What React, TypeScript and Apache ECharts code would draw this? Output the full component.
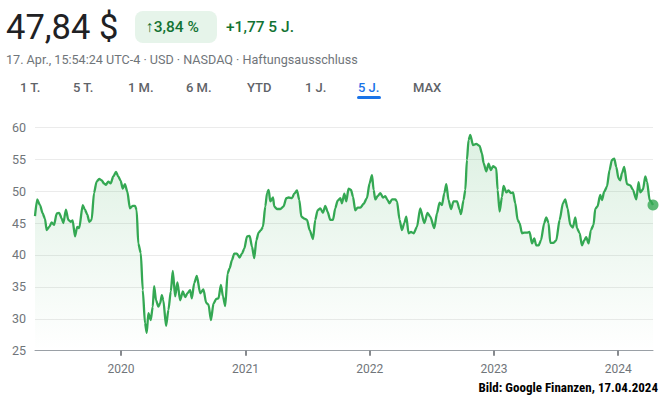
import React, { useEffect, useRef } from "react";
import * as echarts from "echarts";

// Decimal-year dates of the read-off samples
const dates: number[] = [
  2019.308, 2019.326, 2019.348, 2019.370, 2019.388, 2019.402, 2019.423, 2019.442, 2019.461, 2019.483,
  2019.503, 2019.523, 2019.536, 2019.557, 2019.576, 2019.595, 2019.611, 2019.630, 2019.648, 2019.664,
  2019.692, 2019.710, 2019.729, 2019.745, 2019.764, 2019.783, 2019.804, 2019.825, 2019.845, 2019.863,
  2019.879, 2019.898, 2019.917, 2019.938, 2019.960, 2019.978, 2019.998, 2020.014, 2020.032, 2020.051,
  2020.072, 2020.094, 2020.113, 2020.126, 2020.139, 2020.159, 2020.175, 2020.193, 2020.207, 2020.220,
  2020.239, 2020.255, 2020.266, 2020.282, 2020.300, 2020.314, 2020.328, 2020.340, 2020.362, 2020.381,
  2020.400, 2020.416, 2020.435, 2020.453, 2020.475, 2020.497, 2020.515, 2020.534, 2020.555, 2020.569,
  2020.588, 2020.609, 2020.636, 2020.662, 2020.684, 2020.703, 2020.722, 2020.743, 2020.765, 2020.783,
  2020.802, 2020.819, 2020.837, 2020.856, 2020.872, 2020.891, 2020.909, 2020.931, 2020.952, 2020.971,
  2020.990, 2021.012, 2021.033, 2021.052, 2021.070, 2021.087, 2021.105, 2021.124, 2021.140, 2021.159,
  2021.173, 2021.186, 2021.199, 2021.221, 2021.231, 2021.253, 2021.280, 2021.306, 2021.328, 2021.347,
  2021.374, 2021.392, 2021.414, 2021.433, 2021.449, 2021.473, 2021.495, 2021.516, 2021.543, 2021.561,
  2021.580, 2021.602, 2021.623, 2021.642, 2021.660, 2021.682, 2021.704, 2021.722, 2021.741, 2021.763,
  2021.776, 2021.795, 2021.811, 2021.829, 2021.849, 2021.865, 2021.883, 2021.902, 2021.924, 2021.950,
  2021.977, 2021.998, 2022.018, 2022.031, 2022.044, 2022.063, 2022.085, 2022.106, 2022.125, 2022.143,
  2022.159, 2022.179, 2022.205, 2022.219, 2022.240, 2022.259, 2022.278, 2022.294, 2022.312, 2022.332,
  2022.353, 2022.380, 2022.406, 2022.439, 2022.465, 2022.487, 2022.519, 2022.541, 2022.562, 2022.581,
  2022.600, 2022.616, 2022.634, 2022.654, 2022.674, 2022.702, 2022.723, 2022.734, 2022.755, 2022.769,
  2022.782, 2022.795, 2022.809, 2022.831, 2022.857, 2022.884, 2022.903, 2022.916, 2022.938, 2022.956,
  2022.975, 2022.992, 2023.018, 2023.029, 2023.045, 2023.064, 2023.077, 2023.099, 2023.117, 2023.136,
  2023.153, 2023.171, 2023.190, 2023.206, 2023.225, 2023.244, 2023.265, 2023.286, 2023.306, 2023.324,
  2023.340, 2023.359, 2023.378, 2023.404, 2023.421, 2023.439, 2023.453, 2023.479, 2023.501, 2023.528,
  2023.555, 2023.573, 2023.592, 2023.614, 2023.635, 2023.654, 2023.668, 2023.689, 2023.708, 2023.726,
  2023.742, 2023.761, 2023.780, 2023.801, 2023.815, 2023.833, 2023.855, 2023.869, 2023.887, 2023.909,
  2023.930, 2023.949, 2023.968, 2023.984, 2024.002, 2024.016, 2024.030, 2024.048, 2024.070, 2024.097,
  2024.118, 2024.145, 2024.163, 2024.177, 2024.199, 2024.217, 2024.231, 2024.252, 2024.279,
];

// Share price (USD)
const prices: number[] = [
  46.1, 48.7, 47.8, 46.5, 45.7, 43.9, 44.4, 45.1, 44.7, 46.5,
  46.6, 45.7, 45.0, 47.1, 45.5, 45.2, 45.4, 42.9, 44.4, 44.2,
  47.8, 47.1, 46.3, 45.2, 45.5, 49.7, 51.5, 51.9, 51.7, 51.2,
  51.0, 51.5, 51.2, 52.3, 53.0, 52.3, 51.6, 50.4, 51.1, 49.9,
  47.3, 47.7, 47.7, 47.0, 41.8, 40.3, 34.5, 29.3, 27.8, 30.9,
  29.8, 31.9, 35.1, 32.9, 31.9, 32.4, 33.7, 32.9, 28.9, 31.4,
  34.3, 37.5, 33.5, 35.7, 32.9, 34.3, 33.4, 34.0, 34.5, 33.2,
  35.6, 36.7, 34.0, 34.6, 32.5, 32.2, 29.8, 32.4, 33.1, 33.2,
  35.3, 33.5, 32.0, 37.1, 37.9, 39.2, 40.2, 40.2, 39.6, 40.2,
  41.0, 42.9, 43.0, 41.3, 39.5, 42.3, 43.5, 43.9, 44.4, 47.6,
  49.7, 50.2, 48.4, 49.0, 47.6, 47.2, 47.2, 47.6, 48.9, 49.0,
  48.9, 49.6, 50.1, 48.6, 46.0, 45.7, 45.5, 43.9, 42.5, 45.5,
  47.0, 47.3, 46.6, 47.7, 46.8, 45.5, 45.5, 47.3, 48.5, 48.9,
  48.1, 49.6, 48.4, 50.4, 50.2, 49.1, 47.0, 47.4, 47.4, 48.0,
  48.9, 51.2, 52.5, 50.2, 48.7, 49.2, 49.7, 49.0, 49.2, 48.6,
  48.1, 48.7, 48.7, 48.4, 45.5, 43.9, 45.0, 46.0, 43.4, 43.6,
  43.4, 44.4, 47.3, 45.0, 46.6, 46.0, 44.2, 46.5, 48.2, 47.8,
  49.7, 51.1, 48.6, 47.2, 48.4, 48.4, 47.1, 46.4, 48.6, 50.2,
  54.9, 58.0, 58.8, 57.2, 57.4, 57.1, 55.9, 54.4, 53.1, 54.3,
  53.3, 53.9, 53.6, 50.2, 46.8, 49.1, 50.8, 49.8, 50.1, 49.7,
  49.8, 48.1, 45.5, 45.0, 43.4, 43.5, 43.5, 43.6, 41.8, 42.6,
  41.5, 41.5, 42.3, 45.0, 45.9, 45.0, 41.9, 41.9, 42.3, 45.5,
  48.1, 48.7, 47.3, 44.7, 44.3, 45.9, 44.2, 43.4, 41.5, 42.3,
  42.8, 41.8, 43.9, 44.7, 47.2, 47.6, 49.4, 48.6, 49.9, 50.7,
  53.3, 54.9, 55.1, 53.8, 52.0, 51.7, 52.8, 53.8, 51.1, 50.9,
  50.2, 48.7, 51.4, 49.8, 50.3, 52.3, 51.5, 48.6, 47.84,
];

const yTicks: number[] = [25, 30, 35, 40, 45, 50, 55, 60];
const rangeTabs: string[] = ["1 T.", "5 T.", "1 M.", "6 M.", "YTD", "1 J.", "5 J.", "MAX"];
const selectedTab = "5 J.";
const headline = "47,84 $";
const changePct = "↑3,84 %";
const changeAbs = "+1,77 5 J.";
const subtitle = "17. Apr., 15:54:24 UTC-4 · USD · NASDAQ · Haftungsausschluss";
const credit = "Bild: Google Finanzen, 17.04.2024";

function yearToTime(t: number): number {
  const y = Math.floor(t);
  const s = new Date(y, 0, 1).getTime();
  const e = new Date(y + 1, 0, 1).getTime();
  return s + (t - y) * (e - s);
}

const tabX: number[] = [20, 73, 128, 186, 247, 305, 358, 413];

export default function App() {
  const ref = useRef<HTMLDivElement>(null);
  useEffect(() => {
    if (!ref.current) return;
    const chart = echarts.init(ref.current, undefined, { renderer: "svg" });
    const font = "Roboto, 'Noto Sans', Arial, sans-serif";
    const green = "#34a853";
    const seriesData = dates.map((d, i) => [yearToTime(d), prices[i]]);
    const last = seriesData[seriesData.length - 1];

    const graphics: any[] = [
      { type: "text", x: 6, y: 27, style: { text: headline, fontSize: 34.5, fontFamily: font, fill: "#202124", verticalAlign: "middle" } },
      { type: "rect", shape: { x: 135, y: 11, width: 82, height: 32, r: 8 }, style: { fill: "#e6f4ea" } },
      { type: "text", x: 146, y: 27, style: { text: changePct, fontSize: 15.5, fontFamily: font, fill: "#137333", fontWeight: 500, verticalAlign: "middle" } },
      { type: "text", x: 226, y: 27, style: { text: changeAbs, fontSize: 15.5, fontFamily: font, fill: "#137333", fontWeight: 500, verticalAlign: "middle" } },
      { type: "text", x: 6, y: 59, style: { text: subtitle, fontSize: 12.6, fontFamily: font, fill: "#70757a", verticalAlign: "middle" } },
      { type: "rect", shape: { x: 357, y: 96, width: 24, height: 3, r: 1.5 }, style: { fill: "#1a73e8" } },
      { type: "text", x: 658, y: 387, style: { text: credit, fontSize: 13, fontWeight: "bold", fontFamily: "'Liberation Sans Narrow', 'Arial Narrow', 'Roboto Condensed', sans-serif", fill: "#000", align: "right", verticalAlign: "middle" } },
    ];
    rangeTabs.forEach((t, i) => {
      graphics.push({
        type: "text",
        x: tabX[i],
        y: 87,
        style: { text: t, fontSize: 13, fontFamily: font, fontWeight: 500, fill: t === selectedTab ? "#1a73e8" : "#5f6368", verticalAlign: "middle" },
      });
    });

    chart.setOption({
      animation: false,
      grid: { left: 35, right: 11, top: 127.3, bottom: 47.3, containLabel: false },
      xAxis: {
        type: "time",
        min: yearToTime(dates[0]),
        max: yearToTime(dates[dates.length - 1]),
        splitNumber: 5,
        minInterval: 300 * 24 * 3600 * 1000,
        axisLine: { show: true, lineStyle: { color: "#9aa0a6", width: 1 } },
        axisTick: { show: true, length: 5, lineStyle: { color: "#5f6368", width: 1.5 } },
        splitLine: { show: false },
        axisLabel: {
          color: "#70757a",
          fontSize: 12,
          fontFamily: font,
          margin: 12,
          showMinLabel: false,
          showMaxLabel: false,
          formatter: (v: number) => String(new Date(v).getFullYear()),
        },
      },
      yAxis: {
        type: "value",
        min: yTicks[0],
        max: yTicks[yTicks.length - 1],
        interval: 5,
        axisLine: { show: false },
        axisTick: { show: false },
        splitLine: { lineStyle: { color: "#ebebeb", width: 1 } },
        axisLabel: { color: "#70757a", fontSize: 12.5, fontFamily: font, margin: 9 },
      },
      graphic: graphics,
      series: [
        {
          type: "line",
          data: seriesData,
          showSymbol: false,
          smooth: 0.25,
          smoothMonotone: "x",
          lineStyle: { color: green, width: 2.3 },
          areaStyle: {
            color: new echarts.graphic.LinearGradient(0, 0, 0, 1, [
              { offset: 0, color: "rgba(52,168,83,0.24)" },
              { offset: 1, color: "rgba(52,168,83,0)" },
            ]),
          },
          z: 3,
        },
        {
          type: "scatter",
          data: [last],
          symbolSize: 11,
          itemStyle: { color: green },
          z: 4,
        },
      ],
    });
    return () => chart.dispose();
  }, []);
  return (
    <div style={{ position: "fixed", left: 0, top: 0, width: 664, height: 398, background: "#fff" }}>
      <div ref={ref} style={{ width: 664, height: 398 }} />
    </div>
  );
}
